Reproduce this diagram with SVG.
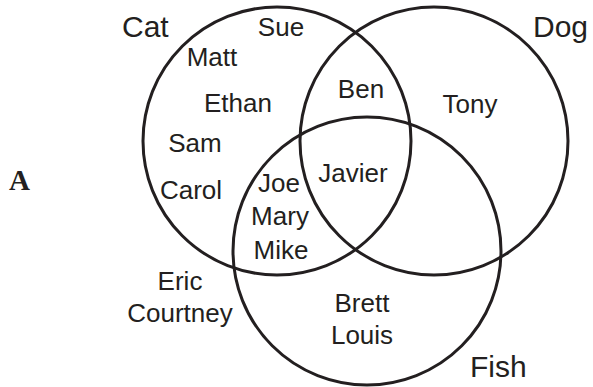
<svg xmlns="http://www.w3.org/2000/svg" width="593" height="387" viewBox="0 0 593 387">
<style>
.c{fill:none;stroke:#231f20;stroke-width:3}
text{font-family:"Liberation Sans",Arial,sans-serif;fill:#231f20}
.n{font-size:26px;text-anchor:middle}
.l{font-size:30px}
.a{font-family:"Liberation Serif","Times New Roman",serif;font-weight:bold;font-size:29px}
</style>
<rect width="593" height="387" fill="#fff"/>
<g id="sets">
<circle id="cat" class="c" cx="277" cy="141" r="134"/>
<circle id="dog" class="c" cx="434" cy="141" r="134"/>
<circle id="fish" class="c" cx="367" cy="251" r="134"/>
</g>
<g id="labels">
<text class="l" x="122" y="37">Cat</text>
<text class="l" x="533" y="37">Dog</text>
<text class="l" x="470" y="377">Fish</text>
<text class="a" x="9" y="190">A</text>
</g>
<g id="names">
<text class="n" x="281" y="36">Sue</text>
<text class="n" x="212" y="66">Matt</text>
<text class="n" x="238" y="112">Ethan</text>
<text class="n" x="195" y="152">Sam</text>
<text class="n" x="191" y="199">Carol</text>
<text class="n" x="279" y="192">Joe</text>
<text class="n" x="280" y="225">Mary</text>
<text class="n" x="281" y="259">Mike</text>
<text class="n" x="361" y="98">Ben</text>
<text class="n" x="470" y="113">Tony</text>
<text class="n" x="353" y="182">Javier</text>
<text class="n" x="180" y="290">Eric</text>
<text class="n" x="180" y="322">Courtney</text>
<text class="n" x="362" y="312">Brett</text>
<text class="n" x="362" y="344">Louis</text>
</g>
</svg>
